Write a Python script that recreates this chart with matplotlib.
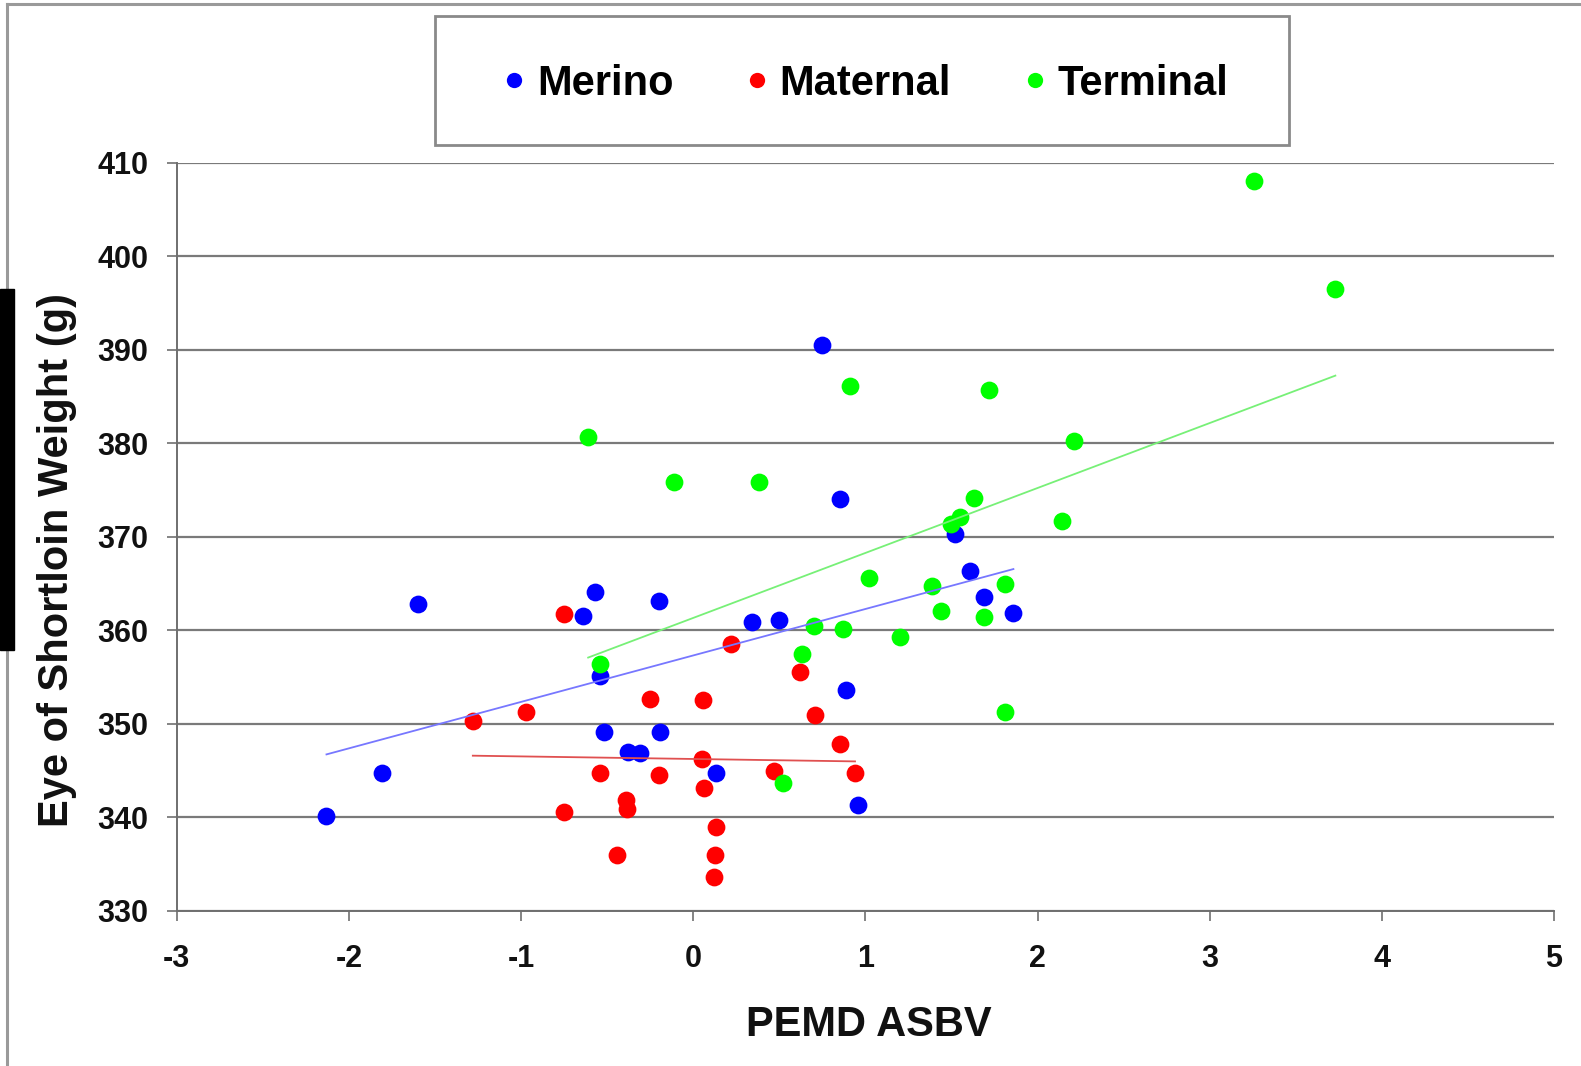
import numpy as np
import matplotlib
matplotlib.use("Agg")
import matplotlib.pyplot as plt
from matplotlib.lines import Line2D
from matplotlib.patches import Rectangle

plt.rcParams['font.family'] = ['Liberation Sans', 'DejaVu Sans']

# ---- data ----
merino_x = [-2.13, -1.81, -1.60, -0.57, -0.64, -0.20, -0.54, -0.52, -0.38, -0.31,
            -0.19, 0.13, 0.34, 0.50, 0.75, 0.85, 0.89, 0.96, 1.52, 1.61, 1.69, 1.86]
merino_y = [340.2, 344.8, 362.8, 364.1, 361.5, 363.1, 355.1, 349.1, 347.0, 346.9,
            349.1, 344.8, 360.9, 361.1, 390.5, 374.0, 353.6, 341.3, 370.3, 366.3, 363.6, 361.9]

maternal_x = [-1.28, -0.97, -0.75, -0.75, -0.54, -0.44, -0.39, -0.385, -0.25, -0.20, 0.05,
              0.056, 0.06, 0.12, 0.128, 0.134, 0.22, 0.47, 0.62, 0.71, 0.855, 0.94]
maternal_y = [350.3, 351.3, 361.7, 340.6, 344.8, 336.0, 341.9, 340.9, 352.7, 344.5, 346.2,
              352.6, 343.2, 333.6, 336.0, 339.0, 358.5, 345.0, 355.6, 351.0, 347.9, 344.7]

terminal_x = [-0.61, -0.11, 0.38, 0.91, 1.72, 1.63, 1.55, 1.50, 1.02, 1.39, 1.81, 1.44,
              1.69, 0.70, 0.87, 1.20, -0.54, 0.63, 0.52, 2.14, 2.21, 1.81, 3.26, 3.73]
terminal_y = [380.7, 375.9, 375.9, 386.1, 385.7, 374.2, 372.1, 371.4, 365.6, 364.7, 365.0, 362.1,
              361.4, 360.5, 360.2, 359.3, 356.4, 357.5, 343.7, 371.7, 380.3, 351.3, 408.0, 396.5]

series_names = ["Merino", "Maternal", "Terminal"]
x_ticks = [-3, -2, -1, 0, 1, 2, 3, 4, 5]
y_ticks = [330, 340, 350, 360, 370, 380, 390, 400, 410]

W, H = 1581, 1066
fig = plt.figure(figsize=(W / 100, H / 100), dpi=100)
fig.patch.set_facecolor('white')

ax_l, ax_r, ax_t, ax_b = 176.7, 1554, 162.7, 911
ax = fig.add_axes([ax_l / W, 1 - ax_b / H, (ax_r - ax_l) / W, (ax_b - ax_t) / H])

colors = ['#0000FF', '#FF0000', '#00FF00']
line_colors = ['#7777FF', '#E05050', '#77F077']
data = [(merino_x, merino_y), (maternal_x, maternal_y), (terminal_x, terminal_y)]

for (xs, ys), c, name in zip(data, colors, series_names):
    ax.plot(xs, ys, linestyle='none', marker='o', ms=12.8, mec='none', mfc=c,
            zorder=3, label=name)

for (xs, ys), lc in zip(data, line_colors):
    xs = np.asarray(xs); ys = np.asarray(ys)
    k, b = np.polyfit(xs, ys, 1)
    xx = np.array([xs.min(), xs.max()])
    ax.plot(xx, k * xx + b, color=lc, lw=1.3, zorder=4)

ax.set_xlim(-3, 5)
ax.set_ylim(330, 410)
ax.set_xticks(x_ticks)
ax.set_yticks(y_ticks)
ax.set_xticklabels([str(v) for v in x_ticks])
ax.set_yticklabels([str(v) for v in y_ticks])
ax.grid(axis='y', color='#7a7a7a', lw=1.6, zorder=1)
ax.set_axisbelow(True)
for s in ['top', 'right']:
    ax.spines[s].set_visible(False)
for s in ['left', 'bottom']:
    ax.spines[s].set_color('#6f6f6f')
    ax.spines[s].set_linewidth(1.4)
ax.tick_params(axis='both', direction='out', length=7.5, width=1.2, color='#6f6f6f',
               labelsize=22, labelcolor='#111111')
ax.tick_params(axis='x', pad=16)
ax.tick_params(axis='y', pad=13)
for lab in ax.get_xticklabels() + ax.get_yticklabels():
    lab.set_fontweight('bold')

# axis titles
fig.text(869 / W, 1 - 1035.6 / H, "PEMD ASBV", fontsize=30, fontweight='bold',
         ha='center', va='baseline', color='#111111')
fig.text(67.6 / W, 1 - 559.6 / H, "Eye of Shortloin Weight (g)", fontsize=30,
         fontweight='bold', rotation=90, rotation_mode='anchor', ha='center',
         va='baseline', color='#111111')

# legend frame
lx0, lx1, ly0, ly1 = 435, 1289, 16.3, 145.3
fig.patches.append(Rectangle((lx0 / W, 1 - ly1 / H), (lx1 - lx0) / W, (ly1 - ly0) / H,
                             transform=fig.transFigure, fill=False, edgecolor='#8a8a8a',
                             lw=2.0, zorder=5))
handles = [Line2D([], [], linestyle='none', marker='o', ms=11, mec='none', mfc=c)
           for c in colors]
leg = fig.legend(handles, series_names, loc='center',
                 bbox_to_anchor=(866 / W, 1 - 84 / H), ncol=3, frameon=False,
                 handlelength=0.5, handletextpad=0.3, columnspacing=1.75,
                 prop={'size': 30, 'weight': 'bold'})

# outer border and black bar
fig.add_artist(Line2D([7.3 / W, 7.3 / W], [0, 1 - 4 / H], transform=fig.transFigure,
                      color='#9a9a9a', lw=2.2))
fig.add_artist(Line2D([7.3 / W, 1], [1 - 4 / H, 1 - 4 / H], transform=fig.transFigure,
                      color='#9a9a9a', lw=2.2))
fig.patches.append(Rectangle((0, 1 - 650 / H), 14 / W, (650 - 289) / H,
                             transform=fig.transFigure, color='black', zorder=6))

fig.savefig('out.png', dpi=100, facecolor='white')
